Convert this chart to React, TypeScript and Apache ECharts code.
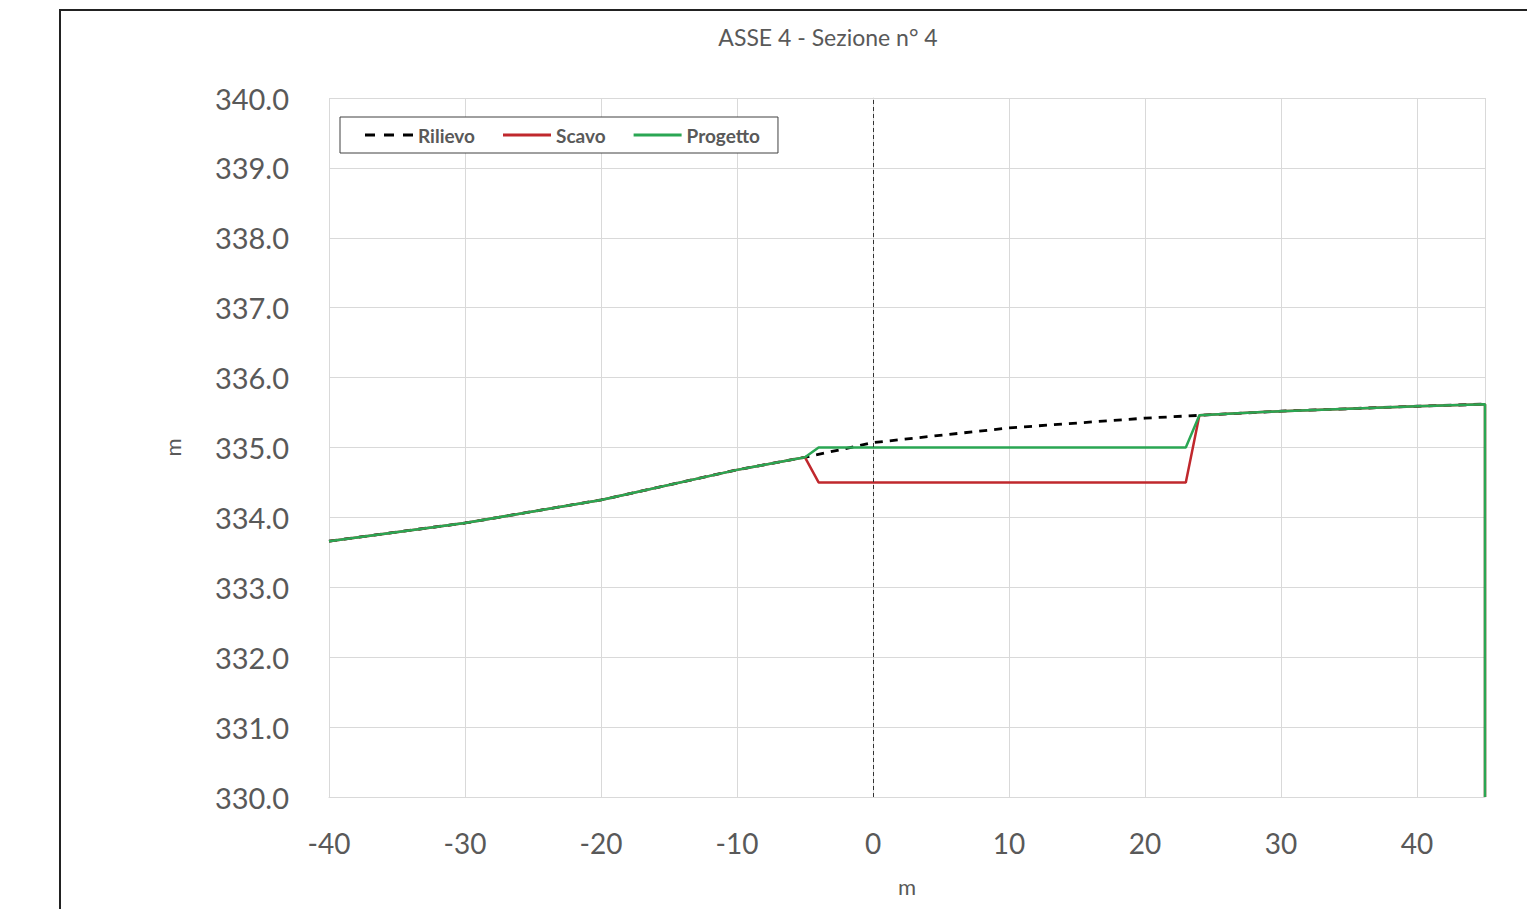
import React, { useEffect, useRef } from "react";
import * as echarts from "echarts";

const terrainX = [-40, -30, -20, -10, -5, 0, 10, 20, 24, 30, 40, 45];
const terrainY = [333.66, 333.92, 334.25, 334.68, 334.86, 335.07, 335.28, 335.42, 335.46, 335.52, 335.59, 335.62];

const scavoX = [-40, -30, -20, -10, -5, -4, 23, 24, 30, 40, 45, 45];
const scavoY = [333.66, 333.92, 334.25, 334.68, 334.86, 334.5, 334.5, 335.46, 335.52, 335.59, 335.62, 330.0];

const progettoX = [-40, -30, -20, -10, -5, -4, 23, 24, 30, 40, 45, 45];
const progettoY = [333.66, 333.92, 334.25, 334.68, 334.86, 335.0, 335.0, 335.46, 335.52, 335.59, 335.62, 330.0];

const seriesNames = ["Rilievo", "Scavo", "Progetto"];
const titleText = "ASSE 4 - Sezione n° 4";
const axisNameX = "m";
const axisNameY = "m";

const zip = (xs: number[], ys: number[]) => xs.map((x, i) => [x, ys[i]]);

const FONT = "Lato, 'Open Sans', sans-serif";
const GREY = "#595959";
const RED = "#c0282d";
const GREEN = "#2aa653";

const dashIcon = "path://M0,0h10v3h-10zM19,0h10v3h-10zM38,0h10v3h-10z";
const solidIcon = "path://M0,0h48v3h-48z";

export default function App() {
  const ref = useRef<HTMLDivElement>(null);
  useEffect(() => {
    if (!ref.current) return;
    const chart = echarts.init(ref.current, undefined, { renderer: "svg" });
    chart.setOption({
      animation: false,
      backgroundColor: "#ffffff",
      title: {
        text: titleText,
        left: 823,
        top: 20,
        textAlign: "center",
        textStyle: { color: GREY, fontSize: 23, fontWeight: "normal", fontFamily: FONT },
      },
      graphic: [
        {
          type: "rect",
          shape: { x: 60, y: 10, width: 1600, height: 1000 },
          style: { fill: "none", stroke: "#222", lineWidth: 2 },
          silent: true,
          z: -1,
        },
      ],
      legend: {
        left: 340,
        top: 117,
        orient: "horizontal",
        data: [
          { name: seriesNames[0], icon: dashIcon, itemStyle: { color: "#000000" } },
          { name: seriesNames[1], icon: solidIcon, itemStyle: { color: RED } },
          { name: seriesNames[2], icon: solidIcon, itemStyle: { color: GREEN } },
        ],
        backgroundColor: "#ffffff",
        borderColor: "#404040",
        borderWidth: 1,
        padding: [8, 18, 8, 25],
        itemWidth: 48,
        itemHeight: 3,
        itemGap: 28,
        textStyle: { color: GREY, fontSize: 19, fontWeight: "bold", fontFamily: FONT, lineHeight: 20 },
      },
      grid: { left: 329, right: 42, top: 98, bottom: 112, containLabel: false },
      xAxis: {
        type: "value",
        min: -40,
        max: 45,
        interval: 10,
        name: axisNameX,
        nameLocation: "middle",
        nameGap: 78,
        nameTextStyle: { color: GREY, fontSize: 22, fontFamily: FONT },
        axisLine: { show: true, onZero: false, lineStyle: { color: "#d9d9d9", width: 1 } },
        axisTick: { show: false },
        axisLabel: {
          color: GREY,
          fontSize: 28,
          fontFamily: FONT,
          margin: 32,
          formatter: (v: number) => (v === 45 ? "" : String(v)),
        },
        splitLine: { show: true, lineStyle: { color: "#d9d9d9", width: 1 } },
      },
      yAxis: {
        type: "value",
        min: 330,
        max: 340,
        interval: 1,
        name: axisNameY,
        nameLocation: "middle",
        nameGap: 146,
        nameRotate: 90,
        nameTextStyle: { color: GREY, fontSize: 22, fontFamily: FONT },
        axisLine: { show: true, lineStyle: { color: "#d9d9d9", width: 1 } },
        axisTick: { show: false },
        axisLabel: {
          color: GREY,
          fontSize: 29,
          fontFamily: FONT,
          margin: 40,
          formatter: (v: number) => v.toFixed(1),
        },
        splitLine: { show: true, lineStyle: { color: "#d9d9d9", width: 1 } },
      },
      series: [
        {
          name: seriesNames[0],
          type: "line",
          data: zip(terrainX, terrainY),
          symbol: "none",
          color: "#000000",
          lineStyle: { color: "#000000", width: 2.8, type: [8, 7] },
          markLine: {
            silent: true,
            symbol: "none",
            label: { show: false },
            lineStyle: { color: "#333333", width: 1, type: [4, 3] },
            data: [{ xAxis: 0 }],
          },
          z: 2,
        },
        {
          name: seriesNames[1],
          type: "line",
          data: zip(scavoX, scavoY),
          symbol: "none",
          color: RED,
          lineStyle: { color: RED, width: 2.5 },
          z: 3,
        },
        {
          name: seriesNames[2],
          type: "line",
          data: zip(progettoX, progettoY),
          symbol: "none",
          color: GREEN,
          lineStyle: { color: GREEN, width: 2.5 },
          z: 4,
        },
      ],
    });
    return () => chart.dispose();
  }, []);
  return (
    <div
      ref={ref}
      style={{ position: "fixed", left: 0, top: 0, width: 1527, height: 909 }}
    />
  );
}
